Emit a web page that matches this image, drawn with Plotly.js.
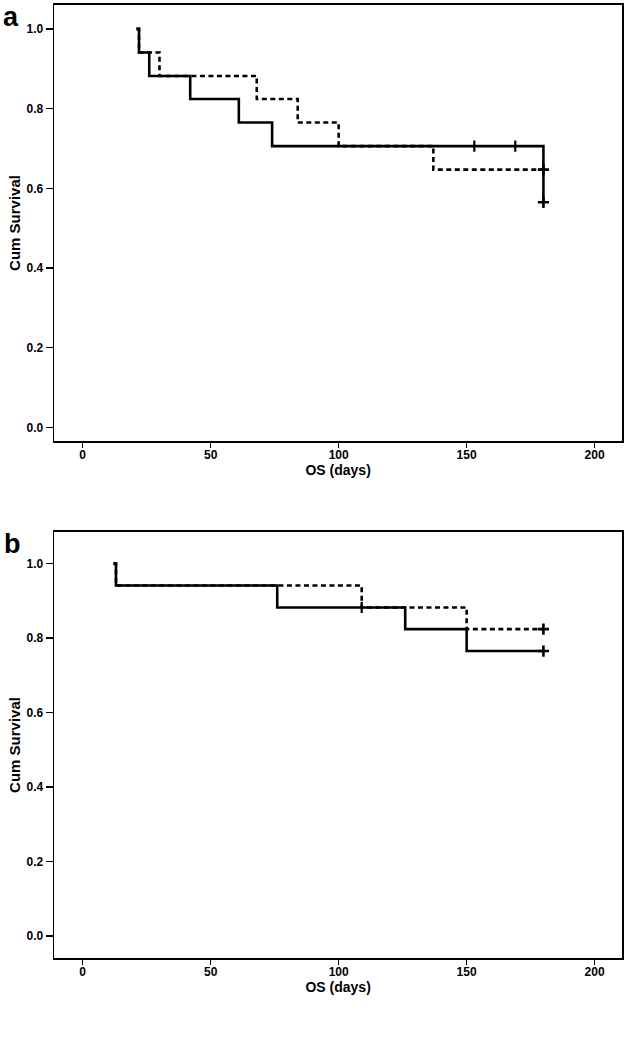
<!DOCTYPE html>
<html>
<head>
<meta charset="utf-8">
<script src="https://cdn.plot.ly/plotly-3.0.1.min.js"></script>
<style>html,body{margin:0;padding:0;background:#fff;}#chart{width:628px;height:1038px;}</style>
</head>
<body>
<div id="chart"></div>
<script>
// Panel a: Kaplan–Meier step curves (OS, days)
const aSolidDays = [21, 22, 26, 42, 61, 74, 180, 180];
const aSolidSurv = [1.0, 0.941, 0.882, 0.824, 0.765, 0.706, 0.706, 0.565];
const aDashDays  = [21, 22, 30, 68, 84, 100, 137, 180];
const aDashSurv  = [1.0, 0.941, 0.882, 0.824, 0.765, 0.706, 0.647, 0.647];
const aSolidCensDays = [153, 169];
const aSolidCensSurv = [0.706, 0.706];
const aEndCensDays = [180, 180];
const aEndCensSurv = [0.565, 0.647];

// Panel b
const bSolidDays = [12, 13, 76, 126, 150, 180];
const bSolidSurv = [1.0, 0.941, 0.882, 0.824, 0.765, 0.765];
const bDashDays  = [12, 13, 109, 150, 180];
const bDashSurv  = [1.0, 0.941, 0.882, 0.824, 0.824];
const bSolidCensDays = [109];
const bSolidCensSurv = [0.882];
const bEndCensDays = [180, 180];
const bEndCensSurv = [0.765, 0.824];

const xTicks = [0, 50, 100, 150, 200];
const yTicks = [0.0, 0.2, 0.4, 0.6, 0.8, 1.0];
const yTickText = ["0.0", "0.2", "0.4", "0.6", "0.8", "1.0"];
const panelLabels = ["a", "b"];
const xTitle = "OS (days)";
const yTitle = "Cum Survival";

const FONT = "Liberation Sans, Arial, sans-serif";

function stepTrace(x, y, dash, xa, ya) {
  return {x: x, y: y, xaxis: xa, yaxis: ya, mode: "lines", type: "scatter",
    line: {shape: "hv", color: "#000", width: 2.6, dash: dash}, hoverinfo: "skip", showlegend: false};
}
function censTrace(x, y, xa, ya) {
  return {x: x, y: y, xaxis: xa, yaxis: ya, mode: "markers", type: "scatter",
    marker: {symbol: "line-ns-open", size: 8, color: "#000", line: {color: "#000", width: 2.2}},
    hoverinfo: "skip", showlegend: false};
}
function endTrace(x, y, xa, ya) {
  return {x: x, y: y, xaxis: xa, yaxis: ya, mode: "markers", type: "scatter",
    marker: {symbol: "cross-thin-open", size: 8, color: "#000", line: {color: "#000", width: 2.6}},
    hoverinfo: "skip", showlegend: false};
}

const data = [
  stepTrace(aDashDays, aDashSurv, "5px,3.5px", "x", "y"),
  stepTrace(aSolidDays, aSolidSurv, "solid", "x", "y"),
  censTrace(aSolidCensDays, aSolidCensSurv, "x", "y"),
  endTrace(aEndCensDays, aEndCensSurv, "x", "y"),
  stepTrace(bDashDays, bDashSurv, "5px,3.5px", "x2", "y2"),
  stepTrace(bSolidDays, bSolidSurv, "solid", "x2", "y2"),
  censTrace(bSolidCensDays, bSolidCensSurv, "x2", "y2"),
  endTrace(bEndCensDays, bEndCensSurv, "x2", "y2")
];

function xAxis(anchor) {
  return {anchor: anchor, domain: [54.3/628, 622/628], range: [-11.1, 210.7],
    tickvals: xTicks, ticktext: xTicks.map(String), ticks: "outside", ticklen: 5, tickwidth: 1.5, tickcolor: "#000",
    ticklabelstandoff: -3,
    showline: true, mirror: true, linecolor: "#000", linewidth: 1.6, showgrid: false, zeroline: false,
    tickfont: {family: FONT, size: 12, color: "#000", weight: "bold"},
    title: {text: "<b>" + xTitle + "</b>", font: {family: FONT, size: 14, color: "#000"}, standoff: 4}};
}
function yAxis(anchor, dom, rng) {
  return {anchor: anchor, domain: dom, range: rng,
    tickvals: yTicks, ticktext: yTickText, ticks: "outside", ticklen: 7, tickwidth: 1.5, tickcolor: "#000",
    showline: true, mirror: true, linecolor: "#000", linewidth: 1.6, showgrid: false, zeroline: false,
    tickfont: {family: FONT, size: 12, color: "#000", weight: "bold"},
    title: {text: "<b>" + yTitle + "</b>", font: {family: FONT, size: 15, color: "#000"}, standoff: 2}};
}

const layout = {
  width: 628, height: 1038,
  margin: {l: 0, r: 0, t: 0, b: 0},
  paper_bgcolor: "#fff", plot_bgcolor: "#fff",
  xaxis: xAxis("y"),
  yaxis: yAxis("x", [1 - 441/1038, 1 - 5/1038], [-0.034, 1.060]),
  xaxis2: xAxis("y2"),
  yaxis2: yAxis("x2", [1 - 958/1038, 1 - 532/1038], [-0.059, 1.0846]),
  annotations: [
    {text: "<b>" + panelLabels[0] + "</b>", xref: "paper", yref: "paper", x: 1/628, y: 1 - 0/1038,
      xanchor: "left", yanchor: "top", showarrow: false, font: {family: FONT, size: 27, color: "#000"}},
    {text: "<b>" + panelLabels[1] + "</b>", xref: "paper", yref: "paper", x: 2/628, y: 1 - 527/1038,
      xanchor: "left", yanchor: "top", showarrow: false, font: {family: FONT, size: 27, color: "#000"}}
  ]
};

Plotly.newPlot("chart", data, layout, {staticPlot: true, displayModeBar: false});
</script>
</body>
</html>
